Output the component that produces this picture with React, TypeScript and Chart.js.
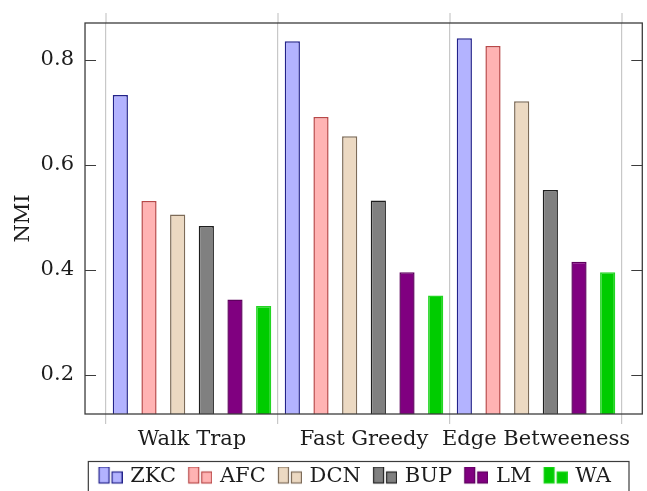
import React, { useEffect, useRef } from 'react';
import { Chart, registerables } from 'chart.js';

Chart.register(...registerables);

// ---- data ----
const categories = ['Walk Trap', 'Fast Greedy', 'Edge Betweeness'];
const seriesNames = ['ZKC', 'AFC', 'DCN', 'BUP', 'LM', 'WA'];
const zkcValues = [0.733, 0.835, 0.841];
const afcValues = [0.531, 0.691, 0.826];
const dcnValues = [0.505, 0.654, 0.721];
const bupValues = [0.483, 0.532, 0.552];
const lmValues = [0.343, 0.395, 0.415];
const waValues = [0.331, 0.351, 0.395];
const yTickValues = [0.2, 0.4, 0.6, 0.8];
const yTitle = 'NMI';

// ---- style ----
const fillColors = ['#b3b3ff', '#ffb3b3', '#ecd9c2', '#808080', '#800080', '#00cc00'];
const borderColors = ['#22228a', '#b84848', '#7d6b58', '#1e1e1e', '#5e005e', '#22d622'];
const FONT = { family: "'DejaVu Serif', serif", size: 21 };
const TEXT_COLOR = '#1c1c1c';
const GRID_COLOR = '#c8c8c8';
const FRAME_COLOR = '#3c3c3c';
const Y_MIN = 0.125;
const Y_MAX = 0.87;
const X_ENLARGE_LEFT = 0.122;
const X_ENLARGE_RIGHT = 0.118;

function makeMarker(fill: string, stroke: string): HTMLCanvasElement {
  const c = document.createElement('canvas');
  c.width = 28;
  c.height = 20;
  const g = c.getContext('2d')!;
  g.fillStyle = fill;
  g.strokeStyle = stroke;
  g.lineWidth = 1.2;
  // tall bar
  g.fillRect(4.5, 0.5, 10, 16);
  g.strokeRect(4.5, 0.5, 10, 16);
  // small square
  g.fillRect(17.5, 5.5, 10, 11);
  g.strokeRect(17.5, 5.5, 10, 11);
  return c;
}

const framePlugin = {
  id: 'pgfFrame',
  afterDraw(chart: any) {
    const { ctx, chartArea, scales } = chart;
    const xs = scales.x;
    const ys = scales.y;
    const n = categories.length;
    const L = xs.getPixelForValue(-0.5 - X_ENLARGE_LEFT);
    const R = xs.getPixelForValue(n - 0.5 + X_ENLARGE_RIGHT);
    const T = chartArea.top;
    const B = chartArea.bottom;
    ctx.save();
    // top tick extensions of the x grid
    ctx.strokeStyle = GRID_COLOR;
    ctx.lineWidth = 1.2;
    for (let i = 0; i <= n; i++) {
      const x = xs.getPixelForValue(i - 0.5);
      ctx.beginPath();
      ctx.moveTo(x, T - 10);
      ctx.lineTo(x, T);
      ctx.stroke();
    }
    // frame
    ctx.strokeStyle = FRAME_COLOR;
    ctx.lineWidth = 1.3;
    ctx.strokeRect(L, T, R - L, B - T);
    // y tick marks (inward, both sides)
    ctx.lineWidth = 1;
    ys.ticks.forEach((t: any) => {
      const y = Math.round(ys.getPixelForValue(t.value)) + 0.5;
      ctx.beginPath();
      ctx.moveTo(L, y);
      ctx.lineTo(L + 11, y);
      ctx.moveTo(R - 11, y);
      ctx.lineTo(R, y);
      ctx.stroke();
    });
    // legend border
    const lg = chart.legend;
    const hb = lg && lg.legendHitBoxes;
    if (hb && hb.length) {
      const first = hb[0];
      const last = hb[hb.length - 1];
      const left = first.left - 9;
      const right = last.left + last.width + 18;
      const top = first.top - 4.5;
      const bottom = first.top + first.height + 8;
      ctx.strokeStyle = FRAME_COLOR;
      ctx.lineWidth = 1.2;
      ctx.strokeRect(left, top, right - left, bottom - top);
    }
    ctx.restore();
  },
};

export default function App() {
  const ref = useRef<HTMLCanvasElement | null>(null);

  useEffect(() => {
    if (!ref.current) return;
    const values = [zkcValues, afcValues, dcnValues, bupValues, lmValues, waValues];
    const markers = seriesNames.map((_, i) => makeMarker(fillColors[i], borderColors[i]));

    const chart = new Chart(ref.current, {
      type: 'bar',
      data: {
        labels: categories,
        datasets: seriesNames.map((name, i) => ({
          label: name,
          data: values[i],
          backgroundColor: fillColors[i],
          borderColor: borderColors[i],
          borderWidth: 1.5,
          borderSkipped: false,
          categoryPercentage: 1,
          barPercentage: 0.53,
        })),
      },
      options: {
        animation: false,
        responsive: true,
        maintainAspectRatio: false,
        layout: { padding: { left: 0, top: 23, right: 25, bottom: -6 } },
        scales: {
          x: {
            afterFit: (s: any) => {
              s.height = 41;
            },
            grid: {
              offset: true,
              color: GRID_COLOR,
              lineWidth: 1.2,
              tickLength: 10,
              tickColor: GRID_COLOR,
            },
            border: { display: false },
            ticks: {
              padding: 3,
              font: FONT,
              color: TEXT_COLOR,
              maxRotation: 0,
              minRotation: 0,
              autoSkip: false,
            },
          },
          y: {
            min: Y_MIN,
            max: Y_MAX,
            afterBuildTicks: (s: any) => {
              s.ticks = yTickValues.map((v) => ({ value: v }));
            },
            afterFit: (s: any) => {
              s.width = 106;
            },
            grid: { display: false, drawTicks: true, tickLength: 29 },
            border: { display: false },
            ticks: {
              padding: 3,
              font: FONT,
              color: TEXT_COLOR,
              callback: (v: any) => Number(v).toFixed(1),
            },
            title: {
              display: true,
              text: yTitle,
              font: FONT,
              color: TEXT_COLOR,
              padding: { top: 11, bottom: 0 },
            },
          },
        },
        plugins: {
          tooltip: { enabled: false },
          legend: {
            position: 'bottom',
            align: 'end',
            fullSize: true,
            labels: {
              usePointStyle: true,
              pointStyleWidth: 22.4,
              padding: 11,
              font: FONT,
              color: TEXT_COLOR,
              generateLabels: (c: any) => {
                const items = (Chart.defaults.plugins.legend.labels as any).generateLabels(c);
                items.forEach((it: any, i: number) => {
                  it.pointStyle = markers[i];
                  it.fontColor = TEXT_COLOR;
                });
                return items;
              },
            },
          },
        },
      },
      plugins: [framePlugin],
    } as any);

    return () => chart.destroy();
  }, []);

  return (
    <div style={{ position: 'fixed', left: 0, top: 0, width: 647, height: 491, background: '#fff' }}>
      <canvas ref={ref} />
    </div>
  );
}
